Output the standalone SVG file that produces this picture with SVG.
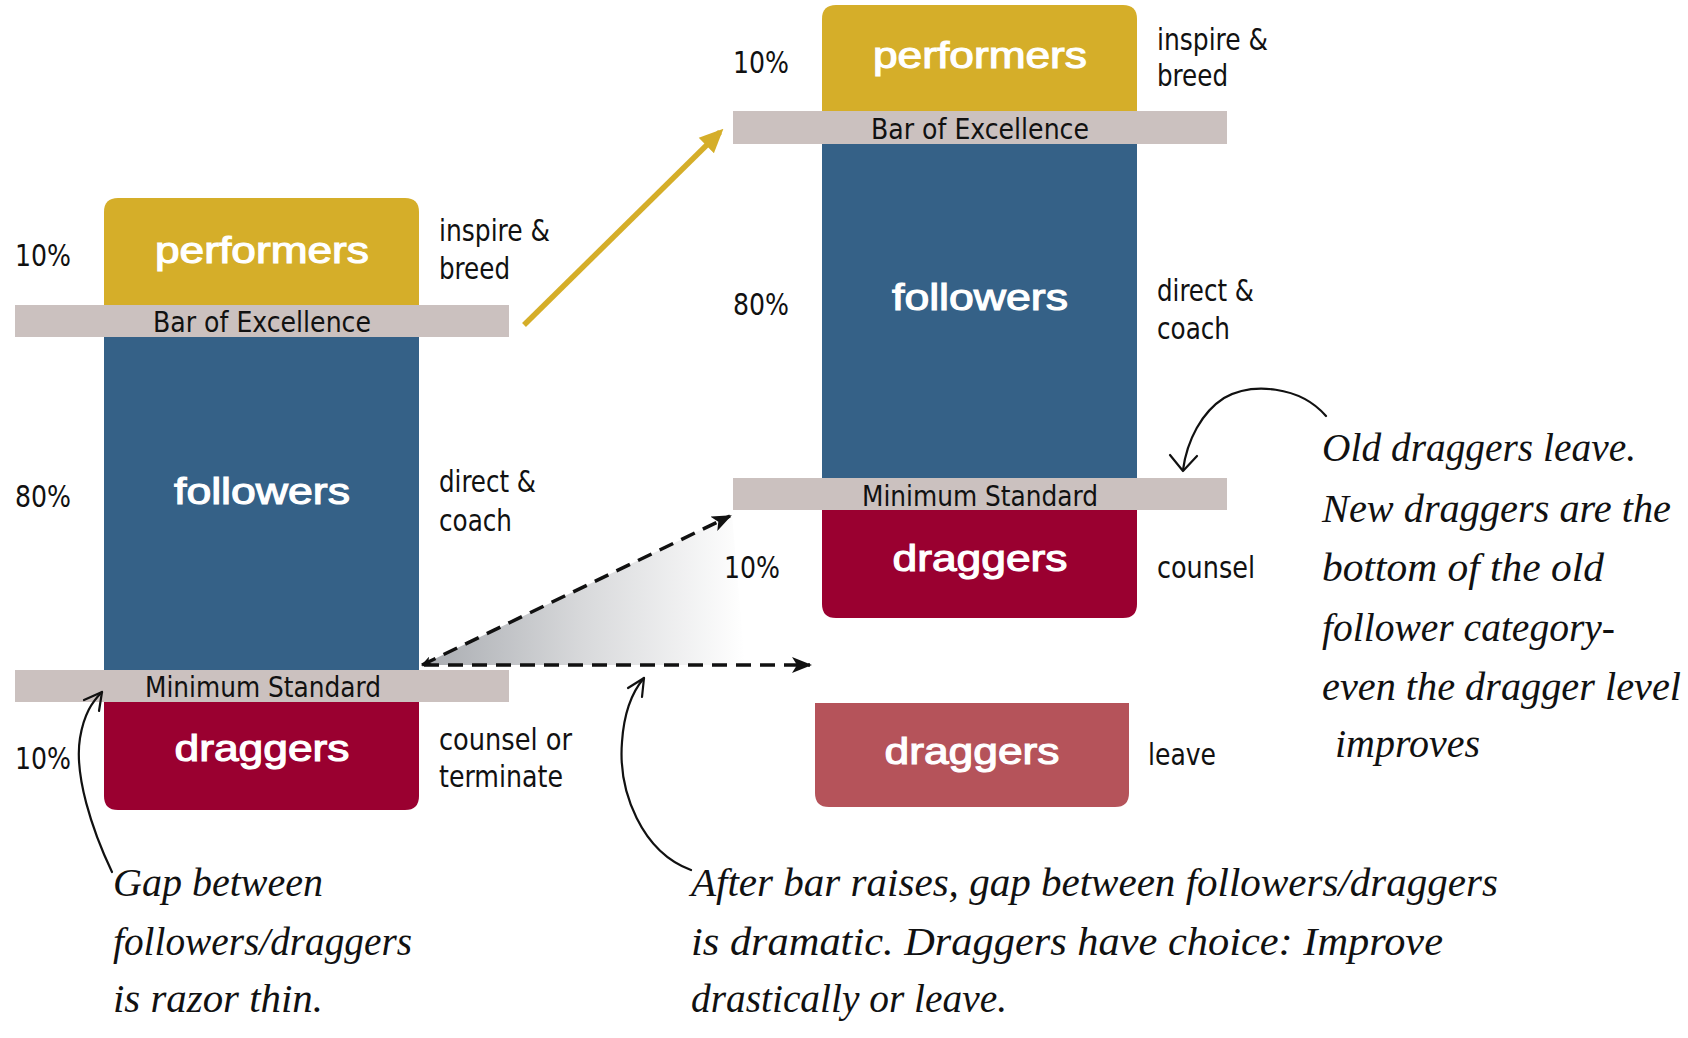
<svg xmlns="http://www.w3.org/2000/svg" width="1688" height="1038" viewBox="0 0 1688 1038">
<style>
.bg{fill:#ffffff}
.gold{fill:#D5AE29}
.blue{fill:#356187}
.red{fill:#9A0030}
.fade{fill:#B5535A}
.bar{fill:#CBC1BF}
.box{font-family:"Liberation Sans","DejaVu Sans",sans-serif;font-weight:normal;font-size:36px;fill:#ffffff;stroke:#ffffff;stroke-width:1.1;text-anchor:middle}
.lbl{font-family:"DejaVu Sans Condensed","Liberation Sans Narrow","Liberation Sans",sans-serif;font-size:31px;fill:#111111}
.barT{font-family:"DejaVu Sans Condensed","Liberation Sans Narrow","Liberation Sans",sans-serif;font-size:29px;fill:#111111;text-anchor:middle}
.hand{font-family:"Liberation Serif","DejaVu Serif",serif;font-style:italic;font-size:40px;fill:#111111}
.dash{fill:none;stroke:#111111;stroke-width:3.5;stroke-dasharray:15 9}
.curve{fill:none;stroke:#111111;stroke-width:2.2;stroke-linecap:round;stroke-linejoin:round}
</style>
<defs>
<marker id="goldHead" markerUnits="userSpaceOnUse" viewBox="0 0 20 20" refX="16" refY="10" markerWidth="24" markerHeight="24" orient="auto">
<path d="M0,1 L20,10 L0,19 z" fill="#D5AE29"/>
</marker>
<marker id="dashHead" markerUnits="userSpaceOnUse" viewBox="0 0 20 16" refX="18" refY="8" markerWidth="20" markerHeight="16" orient="auto">
<path d="M0,0 L20,8 L0,16 L5,8 z" fill="#111111"/>
</marker>
<marker id="dashTail" markerUnits="userSpaceOnUse" viewBox="0 0 20 16" refX="18" refY="8" markerWidth="11" markerHeight="9" orient="auto-start-reverse">
<path d="M0,0 L20,8 L0,16 L5,8 z" fill="#111111"/>
</marker>
<linearGradient id="shade" gradientUnits="userSpaceOnUse" x1="422" y1="600" x2="745" y2="600">
<stop offset="0" stop-color="#a8abb0"/>
<stop offset="0.5" stop-color="#d8d9db"/>
<stop offset="1" stop-color="#ffffff"/>
</linearGradient>
</defs>
<rect class="bg" x="0" y="0" width="1688" height="1038"/>

<g id="gap-shade">
<polygon points="422,665 732,515 745,665" fill="url(#shade)"/>
</g>

<g id="left-performers">
<path class="gold" d="M104,310 V212 Q104,198 118,198 H405 Q419,198 419,212 V310 Z"/>
<text class="box" x="262" y="263" textLength="214" lengthAdjust="spacingAndGlyphs">performers</text>
</g>
<g id="left-followers">
<rect class="blue" x="104" y="330" width="315" height="345"/>
<text class="box" x="262" y="504" textLength="176" lengthAdjust="spacingAndGlyphs">followers</text>
</g>
<g id="left-draggers">
<path class="red" d="M104,695 V796 Q104,810 118,810 H405 Q419,810 419,796 V695 Z"/>
<text class="box" x="262" y="761" textLength="175" lengthAdjust="spacingAndGlyphs">draggers</text>
</g>
<g id="left-bar-excellence">
<rect class="bar" x="15" y="305" width="494" height="32"/>
<text class="barT" x="262" y="332" textLength="218" lengthAdjust="spacingAndGlyphs">Bar of Excellence</text>
</g>
<g id="left-minimum-standard">
<rect class="bar" x="15" y="670" width="494" height="32"/>
<text class="barT" x="263" y="697" textLength="236" lengthAdjust="spacingAndGlyphs">Minimum Standard</text>
</g>
<g id="left-labels">
<text class="lbl" x="15" y="266" textLength="56" lengthAdjust="spacingAndGlyphs">10%</text>
<text class="lbl" x="15" y="507" textLength="56" lengthAdjust="spacingAndGlyphs">80%</text>
<text class="lbl" x="15" y="769" textLength="56" lengthAdjust="spacingAndGlyphs">10%</text>
<text class="lbl" x="439" y="241" textLength="111" lengthAdjust="spacingAndGlyphs">inspire &amp;</text>
<text class="lbl" x="439" y="279" textLength="71" lengthAdjust="spacingAndGlyphs">breed</text>
<text class="lbl" x="439" y="492" textLength="97" lengthAdjust="spacingAndGlyphs">direct &amp;</text>
<text class="lbl" x="439" y="531" textLength="73" lengthAdjust="spacingAndGlyphs">coach</text>
<text class="lbl" x="439" y="750" textLength="133" lengthAdjust="spacingAndGlyphs">counsel or</text>
<text class="lbl" x="439" y="787" textLength="124" lengthAdjust="spacingAndGlyphs">terminate</text>
</g>

<g id="right-performers">
<path class="gold" d="M822,115 V19 Q822,5 836,5 H1123 Q1137,5 1137,19 V115 Z"/>
<text class="box" x="980" y="68" textLength="214" lengthAdjust="spacingAndGlyphs">performers</text>
</g>
<g id="right-followers">
<rect class="blue" x="822" y="140" width="315" height="342"/>
<text class="box" x="980" y="310" textLength="176" lengthAdjust="spacingAndGlyphs">followers</text>
</g>
<g id="right-draggers">
<path class="red" d="M822,505 V604 Q822,618 836,618 H1123 Q1137,618 1137,604 V505 Z"/>
<text class="box" x="980" y="571" textLength="175" lengthAdjust="spacingAndGlyphs">draggers</text>
</g>
<g id="right-bar-excellence">
<rect class="bar" x="733" y="111" width="494" height="33"/>
<text class="barT" x="980" y="139" textLength="218" lengthAdjust="spacingAndGlyphs">Bar of Excellence</text>
</g>
<g id="right-minimum-standard">
<rect class="bar" x="733" y="478" width="494" height="32"/>
<text class="barT" x="980" y="506" textLength="236" lengthAdjust="spacingAndGlyphs">Minimum Standard</text>
</g>
<g id="leaving-draggers">
<path class="fade" d="M815,703 H1129 V793 Q1129,807 1115,807 H829 Q815,807 815,793 Z"/>
<text class="box" x="972" y="764" textLength="175" lengthAdjust="spacingAndGlyphs">draggers</text>
</g>
<g id="right-labels">
<text class="lbl" x="733" y="73" textLength="56" lengthAdjust="spacingAndGlyphs">10%</text>
<text class="lbl" x="733" y="315" textLength="56" lengthAdjust="spacingAndGlyphs">80%</text>
<text class="lbl" x="724" y="578" textLength="56" lengthAdjust="spacingAndGlyphs">10%</text>
<text class="lbl" x="1157" y="50" textLength="111" lengthAdjust="spacingAndGlyphs">inspire &amp;</text>
<text class="lbl" x="1157" y="86" textLength="71" lengthAdjust="spacingAndGlyphs">breed</text>
<text class="lbl" x="1157" y="301" textLength="97" lengthAdjust="spacingAndGlyphs">direct &amp;</text>
<text class="lbl" x="1157" y="339" textLength="73" lengthAdjust="spacingAndGlyphs">coach</text>
<text class="lbl" x="1157" y="578" textLength="98" lengthAdjust="spacingAndGlyphs">counsel</text>
<text class="lbl" x="1148" y="765" textLength="68" lengthAdjust="spacingAndGlyphs">leave</text>
</g>

<g id="connectors">
<line x1="524" y1="325" x2="720" y2="132" stroke="#D5AE29" stroke-width="5.5" marker-end="url(#goldHead)"/>
<line class="dash" x1="422" y1="665" x2="730" y2="516" marker-start="url(#dashTail)" marker-end="url(#dashHead)"/>
<line class="dash" x1="424" y1="665" x2="810" y2="665" marker-end="url(#dashHead)"/>
<path class="curve" d="M112,872 C92,830 74,775 80,738 C84,714 92,702 102,692"/>
<polyline class="curve" points="84,700 102,692 99,711"/>
<path class="curve" d="M691,870 C642,852 618,792 622,742 C624,712 632,692 644,678"/>
<polyline class="curve" points="628,688 644,678 642,697"/>
<path class="curve" d="M1326,416 C1300,386 1252,382 1224,398 C1202,412 1187,440 1183,470"/>
<polyline class="curve" points="1170,455 1183,471 1197,456"/>
</g>

<g id="notes">
<text class="hand" x="113" y="896" textLength="210" lengthAdjust="spacingAndGlyphs">Gap between</text>
<text class="hand" x="113" y="955" textLength="299" lengthAdjust="spacingAndGlyphs">followers/draggers</text>
<text class="hand" x="113" y="1012" textLength="210" lengthAdjust="spacingAndGlyphs">is razor thin.</text>
<text class="hand" x="691" y="896" textLength="807" lengthAdjust="spacingAndGlyphs">After bar raises, gap between followers/draggers</text>
<text class="hand" x="691" y="955" textLength="752" lengthAdjust="spacingAndGlyphs">is dramatic. Draggers have choice: Improve</text>
<text class="hand" x="691" y="1012" textLength="316" lengthAdjust="spacingAndGlyphs">drastically or leave.</text>
<text class="hand" x="1322" y="461" textLength="314" lengthAdjust="spacingAndGlyphs">Old draggers leave.</text>
<text class="hand" x="1322" y="522" textLength="349" lengthAdjust="spacingAndGlyphs">New draggers are the</text>
<text class="hand" x="1322" y="581" textLength="282" lengthAdjust="spacingAndGlyphs">bottom of the old</text>
<text class="hand" x="1322" y="641" textLength="293" lengthAdjust="spacingAndGlyphs">follower category-</text>
<text class="hand" x="1322" y="700" textLength="359" lengthAdjust="spacingAndGlyphs">even the dragger level</text>
<text class="hand" x="1335" y="757" textLength="145" lengthAdjust="spacingAndGlyphs">improves</text>
</g>
</svg>
